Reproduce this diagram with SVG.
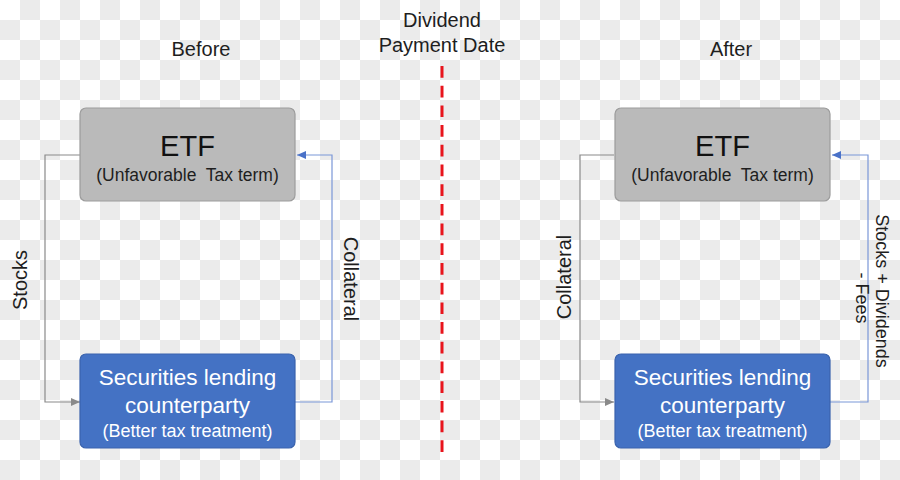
<svg xmlns="http://www.w3.org/2000/svg" width="900" height="480" viewBox="0 0 900 480">
  <defs>
    <pattern id="checker" x="0" y="0" width="40" height="40" patternUnits="userSpaceOnUse">
      <rect width="40" height="40" fill="#ffffff"/>
      <rect x="20" y="0" width="20" height="20" fill="#ebebeb"/>
      <rect x="0" y="20" width="20" height="20" fill="#ebebeb"/>
    </pattern>
    <marker id="arrGray" markerUnits="userSpaceOnUse" markerWidth="10" markerHeight="8" refX="9" refY="4" orient="auto">
      <path d="M0,0 L9,4 L0,8 Z" fill="#8a8a8a"/>
    </marker>
    <marker id="arrBlue" markerUnits="userSpaceOnUse" markerWidth="10" markerHeight="8" refX="9" refY="4" orient="auto">
      <path d="M0,0 L9,4 L0,8 Z" fill="#4a72c8"/>
    </marker>
  </defs>
  <style>
    text { font-family: "Liberation Sans", Arial, sans-serif; }
    .hdr { font-size: 20px; fill: #1e1e1e; text-anchor: middle; }
    .etfbox { fill: #bababa; stroke: #9c9c9c; stroke-width: 1.2; }
    .slbox { fill: #4472c4; stroke: #3a63ad; stroke-width: 1.2; }
    .etf { font-size: 29px; fill: #111111; text-anchor: middle; }
    .etfsub { font-size: 17.5px; fill: #1e1e1e; text-anchor: middle; white-space: pre; }
    .sl { font-size: 22.5px; fill: #ffffff; text-anchor: middle; }
    .slsub { font-size: 18px; fill: #ffffff; text-anchor: middle; }
    .gray { fill: none; stroke: #8a8a8a; stroke-width: 1.2; }
    .blue { fill: none; stroke: #7b97d8; stroke-width: 1.2; }
    .lbl { font-size: 20px; fill: #1e1e1e; text-anchor: middle; }
    .lbl2 { font-size: 18px; fill: #1e1e1e; text-anchor: middle; }
  </style>
  <rect width="900" height="480" fill="url(#checker)"/>

  <g id="headers">
    <text class="hdr" x="201" y="56">Before</text>
    <text class="hdr" x="731" y="56">After</text>
    <text class="hdr" x="442" y="27">Dividend</text>
    <text class="hdr" x="442" y="52">Payment Date</text>
  </g>

  <g id="divider">
    <line x1="442" y1="66" x2="442" y2="453" stroke="#e8141c" stroke-width="3" stroke-dasharray="11.7 8"/>
  </g>

  <g id="connectors">
    <path class="gray" d="M80,155 H45 V402 H80" marker-end="url(#arrGray)"/>
    <path class="blue" d="M295,402 H332 V155 H297" marker-end="url(#arrBlue)"/>
    <path class="gray" d="M614,155 H580 V402 H614" marker-end="url(#arrGray)"/>
    <path class="blue" d="M830,402 H868 V155 H832" marker-end="url(#arrBlue)"/>
    <text class="lbl" transform="translate(27,280) rotate(-90)">Stocks</text>
    <text class="lbl" transform="translate(344,279) rotate(90)">Collateral</text>
    <text class="lbl" transform="translate(571,277) rotate(-90)">Collateral</text>
    <text class="lbl2" transform="translate(876,291) rotate(90)">Stocks + Dividends</text>
    <text class="lbl2" transform="translate(856,298) rotate(90)">- Fees</text>
  </g>

  <g id="etf-before">
    <rect class="etfbox" x="80" y="108" width="215" height="93" rx="6"/>
    <text class="etf" x="187.5" y="156">ETF</text>
    <text class="etfsub" x="187.5" y="181" xml:space="preserve">(Unfavorable  Tax term)</text>
  </g>

  <g id="sl-before">
    <rect class="slbox" x="80" y="354" width="215" height="94" rx="6"/>
    <text class="sl" x="187.5" y="385">Securities lending</text>
    <text class="sl" x="187.5" y="413">counterparty</text>
    <text class="slsub" x="187.5" y="437">(Better tax treatment)</text>
  </g>

  <g id="etf-after">
    <rect class="etfbox" x="615" y="108" width="215" height="93" rx="6"/>
    <text class="etf" x="722.5" y="156">ETF</text>
    <text class="etfsub" x="722.5" y="181" xml:space="preserve">(Unfavorable  Tax term)</text>
  </g>

  <g id="sl-after">
    <rect class="slbox" x="615" y="354" width="215" height="94" rx="6"/>
    <text class="sl" x="722.5" y="385">Securities lending</text>
    <text class="sl" x="722.5" y="413">counterparty</text>
    <text class="slsub" x="722.5" y="437">(Better tax treatment)</text>
  </g>
</svg>
